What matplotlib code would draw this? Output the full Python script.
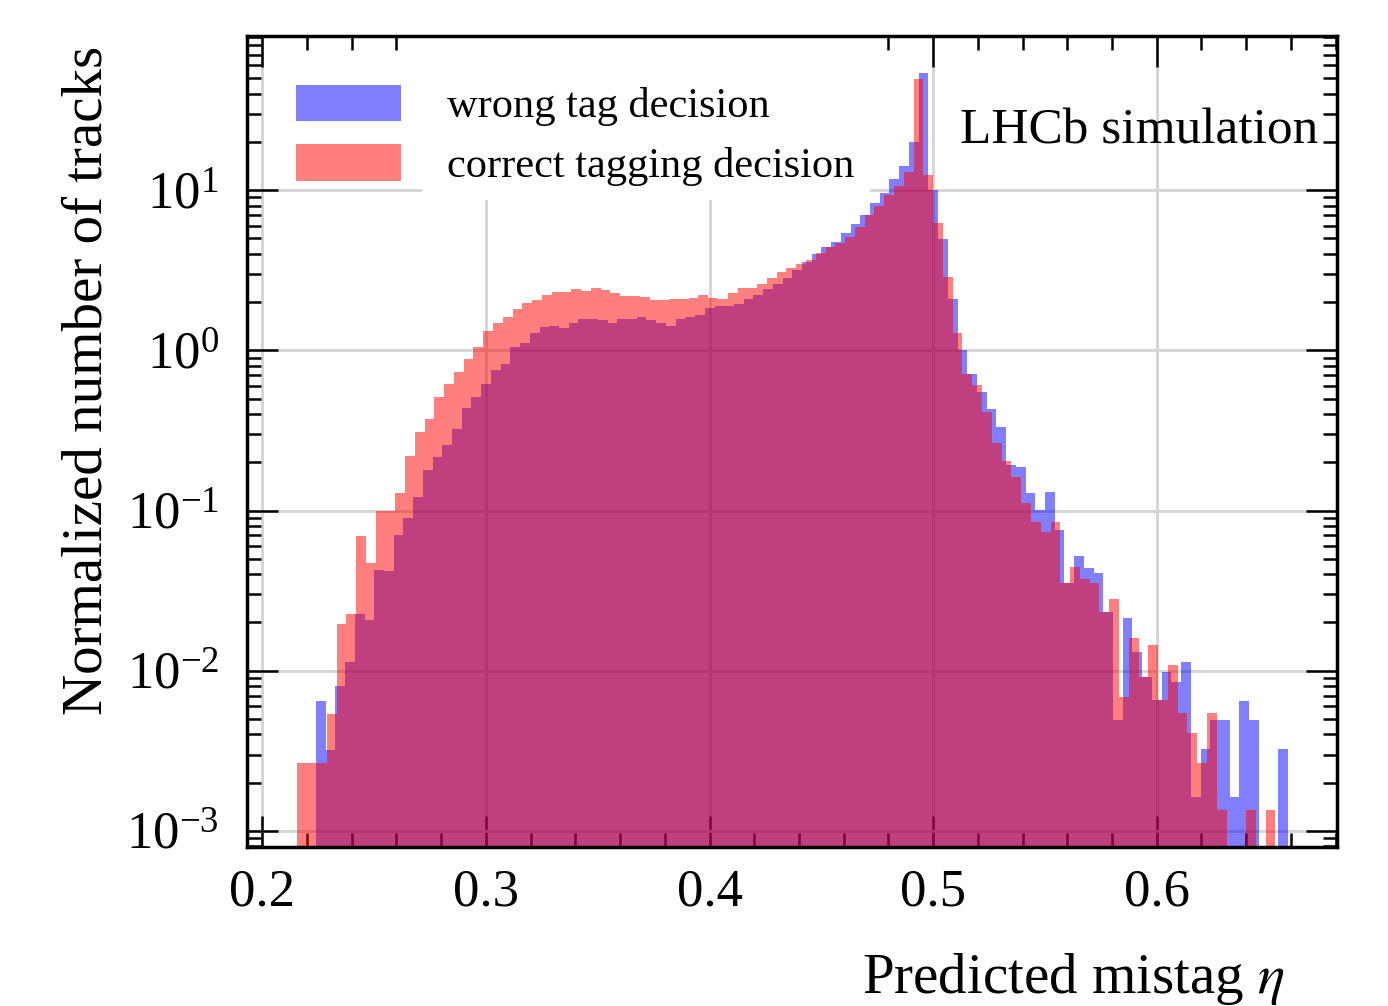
import numpy as np
import matplotlib
matplotlib.use("Agg")
import matplotlib.pyplot as plt
from matplotlib.ticker import MultipleLocator, LogLocator, NullFormatter
from matplotlib.patches import Rectangle

plt.rcParams['font.family'] = ['Liberation Serif', 'DejaVu Serif']
plt.rcParams['mathtext.fontset'] = 'stix'

# ---------------- data (normalized bin contents) ----------------
n_bins = 100
wrong_range = (0.2240, 0.6587)
correct_range = (0.2157, 0.6531)

wrong_vals = [
    6.49e-3, 3.20e-3, 8.01e-3, 0.0113, 0.0225, 0.0207, 0.0425, 0.0419, 0.0702, 0.0893,
    0.122, 0.179, 0.216, 0.256, 0.321, 0.434, 0.513, 0.615, 0.752, 0.820,
    1.042, 1.104, 1.286, 1.390, 1.416, 1.376, 1.485, 1.559, 1.559, 1.543,
    1.485, 1.559, 1.559, 1.619, 1.543, 1.472, 1.416, 1.559, 1.619, 1.659,
    1.827, 1.888, 1.888, 1.942, 2.078, 2.211, 2.410, 2.590, 2.822, 3.167,
    3.553, 3.986, 4.408, 4.756, 5.366, 6.135, 6.98, 8.26, 9.62, 11.72,
    14.12, 20.02, 53.9, 10.0, 4.92, 2.078, 1.003, 0.710, 0.548, 0.433,
    0.330, 0.192, 0.187, 0.128, 0.1006, 0.131, 0.0759, 0.0352, 0.0519, 0.0435,
    0.0405, 0.0233, 4.92e-3, 0.0212, 0.0131, 9.16e-3, 6.55e-3, 9.84e-3, 8.49e-3, 0.0113,
    1.63e-3, 3.27e-3, 4.92e-3, 4.92e-3, 1.63e-3, 6.49e-3, 4.92e-3, 0.0, 0.0, 3.27e-3,
]

correct_vals = [
    2.65e-3, 2.65e-3, 2.65e-3, 5.36e-3, 0.0195, 0.0225, 0.0692, 0.0470, 0.0991, 0.0991,
    0.1285, 0.219, 0.309, 0.372, 0.511, 0.615, 0.731, 0.881, 1.047, 1.318,
    1.479, 1.611, 1.807, 1.970, 2.058, 2.211, 2.308, 2.308, 2.411, 2.342,
    2.445, 2.376, 2.275, 2.179, 2.179, 2.148, 2.058, 2.058, 2.088, 2.088,
    2.118, 2.211, 2.118, 2.088, 2.275, 2.445, 2.445, 2.590, 2.822, 3.077,
    3.260, 3.451, 3.656, 4.045, 4.408, 4.669, 5.088, 5.875, 6.98, 7.94,
    9.31, 10.59, 12.95, 49.3, 12.4, 6.22, 2.86, 1.28, 0.710, 0.607,
    0.411, 0.264, 0.203, 0.1616, 0.1111, 0.0848, 0.0733, 0.0848, 0.0352, 0.0444,
    0.0373, 0.0352, 0.0232, 0.0280, 6.84e-3, 0.0160, 9.12e-3, 0.01445, 6.55e-3, 0.01082,
    5.43e-3, 4.07e-3, 2.65e-3, 5.43e-3, 1.35e-3, 0.0, 0.0, 1.35e-3, 0.0, 1.35e-3,
]

labels = ['wrong tag decision', 'correct tagging decision']
x_ticks = [0.2, 0.3, 0.4, 0.5, 0.6]

# ---------------- figure ----------------
fig = plt.figure(figsize=(13.88, 10.06), dpi=100)
ax = fig.add_axes([0.1777, 0.1584, 0.7857, 0.8058])

wrong_edges = np.linspace(wrong_range[0], wrong_range[1], n_bins + 1)
correct_edges = np.linspace(correct_range[0], correct_range[1], n_bins + 1)
wrong_centers = 0.5 * (wrong_edges[:-1] + wrong_edges[1:])
correct_centers = 0.5 * (correct_edges[:-1] + correct_edges[1:])

ax.hist(wrong_centers, bins=wrong_edges, weights=wrong_vals, histtype='stepfilled',
        color='blue', alpha=0.5, linewidth=0, log=True, label=labels[0], zorder=1)
ax.hist(correct_centers, bins=correct_edges, weights=correct_vals, histtype='stepfilled',
        color='red', alpha=0.5, linewidth=0, log=True, label=labels[1], zorder=1.1)

ax.set_yscale('log')
ax.set_xlim(0.1930, 0.6807)
ax.set_ylim(7.98e-4, 91.5)

ax.set_axisbelow(True)
ax.grid(True, which='major', color='#d4d4d4', linewidth=2.0)

ax.xaxis.set_major_locator(plt.FixedLocator(x_ticks))
ax.xaxis.set_minor_locator(MultipleLocator(0.02))
ax.yaxis.set_major_locator(LogLocator(base=10, numticks=20))
ax.yaxis.set_minor_locator(LogLocator(base=10, subs=np.arange(2, 10), numticks=20))
ax.yaxis.set_minor_formatter(NullFormatter())
ax.set_xticklabels([f'{t:.1f}' for t in x_ticks])

ax.tick_params(which='both', direction='in', top=True, right=True, width=1.8,
               color='black', labelsize=38)
ax.tick_params(which='major', length=22)
ax.tick_params(which='minor', length=10)
ax.tick_params(axis='x', which='major', pad=16)
ax.tick_params(axis='y', which='major', pad=20)

for s in ax.spines.values():
    s.set_linewidth(2.5)
    s.set_color('black')

# white area behind the legend that hides the grid
ax.add_patch(Rectangle((0.1607, 0.7977), 0.4108, 0.25, transform=ax.transAxes,
                       facecolor='white', edgecolor='none', zorder=0.8))

ax.legend(loc='upper left', bbox_to_anchor=(0.0452, 0.940), borderaxespad=0,
          borderpad=0, frameon=False, fontsize=30.5, handlelength=2.48,
          handleheight=0.95, handletextpad=1.08, labelspacing=0.42)

ax.text(0.654, 0.8677, 'LHCb simulation', transform=ax.transAxes, fontsize=37,
        ha='left', va='baseline')

fig.text(862 / 1388, 1 - 993 / 1006, r'Predicted mistag $\eta$', fontsize=41,
         ha='left', va='baseline')
fig.text(88 / 1388, 1 - 380 / 1006, 'Normalized number of tracks', fontsize=41,
         rotation=90, ha='center', va='center')

fig.savefig('out.png', dpi=100)
